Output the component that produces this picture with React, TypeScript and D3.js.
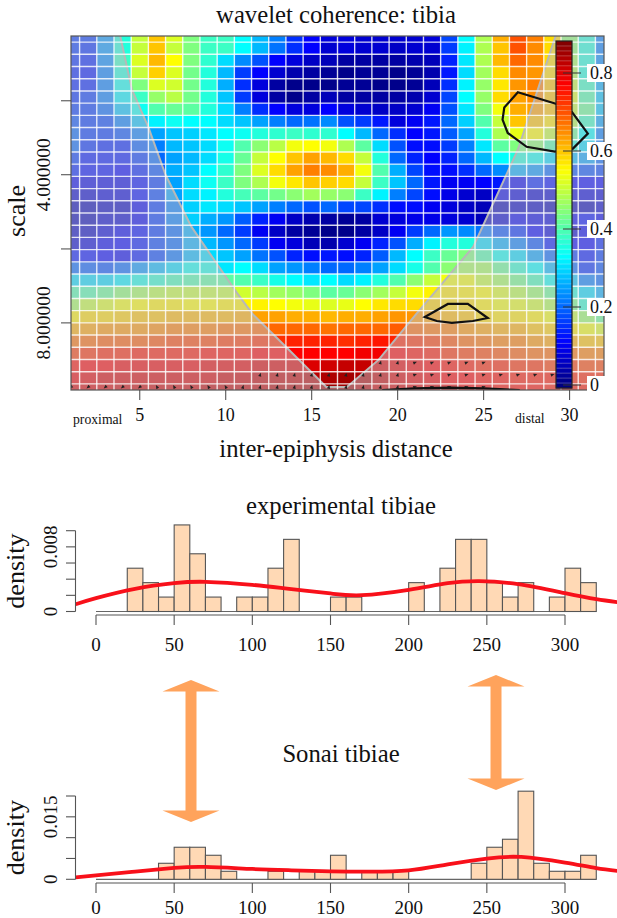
import { useMemo } from 'react';
import * as d3 from 'd3';

const WIDTH = 617;
const HEIGHT = 918;
const SERIF = '"Liberation Serif", "Times New Roman", serif';

// coherence per scale row (top to bottom), columns x = 1..32
const coherence: number[][] = [
  [.16,.16,.24,.36,.5,.6,.52,.44,.38,.38,.33,.27,.22,.15,.11,.08,.08,.07,.07,.07,.07,.08,.17,.33,.48,.62,.7,.66,.58,.45,.36,.22],
  [.16,.15,.24,.36,.5,.6,.5,.44,.38,.38,.33,.27,.21,.15,.11,.07,.08,.07,.07,.06,.07,.07,.16,.32,.48,.6,.7,.65,.58,.45,.36,.22],
  [.15,.14,.23,.38,.52,.61,.55,.44,.37,.3,.23,.18,.11,.08,.06,.05,.03,.03,.03,.03,.04,.05,.14,.31,.48,.61,.68,.65,.58,.47,.36,.23],
  [.14,.13,.22,.36,.5,.59,.52,.43,.36,.27,.16,.11,.07,.04,.03,.02,.01,.02,.02,.01,.02,.04,.13,.3,.47,.58,.65,.64,.58,.48,.36,.24],
  [.14,.14,.22,.34,.44,.52,.51,.43,.36,.26,.15,.08,.03,.01,.01,.01,.02,.02,.01,.01,.02,.05,.15,.32,.46,.57,.64,.66,.6,.5,.38,.26],
  [.15,.16,.22,.32,.38,.46,.49,.43,.36,.28,.16,.08,.03,.01,.03,.05,.03,.03,.03,.03,.04,.07,.17,.33,.46,.58,.63,.65,.6,.52,.4,.28],
  [.16,.16,.2,.28,.34,.4,.42,.41,.36,.3,.22,.15,.11,.08,.08,.11,.08,.07,.06,.06,.07,.1,.18,.31,.44,.54,.62,.63,.6,.5,.42,.28],
  [.18,.16,.17,.22,.28,.32,.34,.33,.33,.3,.28,.25,.22,.2,.21,.23,.18,.16,.13,.08,.1,.13,.2,.29,.4,.5,.6,.6,.57,.48,.38,.25],
  [.2,.16,.16,.18,.22,.25,.28,.29,.31,.33,.34,.36,.37,.38,.37,.37,.33,.27,.2,.15,.11,.13,.19,.25,.36,.48,.53,.55,.5,.42,.33,.22],
  [.2,.15,.14,.14,.19,.22,.27,.28,.3,.34,.4,.45,.49,.54,.55,.54,.48,.41,.3,.18,.12,.12,.16,.22,.31,.41,.44,.45,.4,.36,.3,.22],
  [.16,.13,.13,.13,.16,.2,.25,.27,.3,.35,.42,.5,.55,.6,.63,.61,.58,.5,.36,.2,.14,.11,.14,.2,.27,.33,.36,.34,.3,.27,.25,.2],
  [.14,.12,.12,.11,.14,.18,.26,.28,.33,.37,.44,.52,.58,.63,.66,.65,.62,.54,.4,.26,.17,.12,.12,.15,.2,.23,.26,.24,.2,.18,.18,.17],
  [.1,.09,.09,.09,.12,.16,.25,.3,.34,.38,.44,.48,.54,.57,.6,.59,.58,.5,.38,.28,.2,.13,.1,.1,.11,.13,.1,.14,.12,.11,.11,.11],
  [.07,.07,.08,.08,.12,.17,.25,.3,.32,.36,.39,.41,.43,.45,.47,.46,.45,.38,.32,.22,.17,.12,.09,.07,.06,.09,.08,.07,.07,.08,.08,.08],
  [.05,.05,.06,.06,.1,.16,.22,.29,.31,.3,.28,.25,.22,.2,.18,.2,.17,.17,.15,.12,.12,.1,.08,.06,.05,.05,.06,.06,.05,.05,.05,.07],
  [.05,.05,.07,.07,.1,.16,.22,.29,.26,.24,.19,.14,.1,.06,.04,.03,.02,.03,.07,.08,.09,.09,.08,.07,.05,.07,.1,.09,.08,.1,.12,.1],
  [.06,.06,.08,.1,.12,.16,.2,.26,.24,.2,.16,.1,.06,.03,.02,.01,.01,.03,.06,.1,.16,.2,.24,.23,.21,.18,.15,.11,.08,.07,.1,.1],
  [.07,.08,.1,.11,.13,.17,.2,.26,.27,.24,.2,.16,.1,.08,.05,.04,.07,.1,.14,.18,.26,.32,.36,.36,.3,.26,.22,.18,.13,.11,.11,.14],
  [.13,.12,.11,.1,.13,.17,.21,.27,.3,.28,.25,.21,.18,.14,.12,.13,.12,.14,.19,.27,.33,.38,.42,.44,.4,.34,.3,.25,.2,.16,.13,.16],
  [.2,.19,.18,.2,.24,.27,.3,.34,.35,.31,.33,.3,.25,.24,.22,.2,.2,.22,.25,.3,.35,.4,.45,.47,.47,.42,.37,.33,.27,.2,.15,.18],
  [.3,.3,.3,.32,.35,.37,.39,.4,.41,.41,.4,.38,.35,.33,.31,.33,.3,.32,.36,.4,.45,.5,.54,.54,.5,.47,.43,.39,.34,.28,.22,.2],
  [.4,.4,.42,.45,.47,.49,.5,.5,.5,.5,.51,.49,.47,.46,.44,.41,.42,.45,.47,.5,.54,.56,.57,.56,.55,.52,.49,.46,.42,.36,.3,.26],
  [.47,.5,.52,.54,.55,.56,.56,.55,.55,.56,.56,.56,.55,.54,.53,.52,.53,.55,.57,.58,.58,.59,.58,.58,.56,.54,.53,.51,.48,.43,.37,.32],
  [.56,.58,.58,.59,.6,.6,.61,.61,.61,.61,.62,.63,.63,.62,.62,.61,.62,.62,.63,.64,.64,.63,.61,.6,.58,.57,.57,.56,.54,.5,.46,.42],
  [.62,.63,.64,.64,.64,.65,.66,.66,.66,.67,.67,.68,.68,.68,.68,.67,.68,.68,.68,.69,.68,.67,.66,.64,.63,.62,.62,.6,.59,.57,.54,.52],
  [.67,.68,.69,.69,.69,.7,.71,.71,.71,.72,.72,.73,.73,.74,.74,.74,.73,.74,.75,.74,.73,.72,.7,.68,.67,.66,.66,.64,.63,.62,.6,.6],
  [.72,.73,.74,.74,.75,.75,.75,.75,.76,.76,.76,.77,.77,.77,.77,.77,.77,.78,.78,.77,.76,.75,.73,.72,.71,.7,.69,.68,.68,.67,.66,.66],
  [.76,.77,.77,.78,.78,.78,.78,.78,.79,.79,.79,.8,.8,.8,.8,.81,.82,.82,.8,.79,.78,.77,.76,.75,.74,.74,.73,.73,.72,.72,.71,.71],
  [.78,.79,.8,.8,.8,.8,.8,.8,.8,.81,.81,.82,.82,.82,.83,.84,.85,.84,.82,.8,.79,.78,.77,.77,.76,.76,.75,.75,.75,.74,.74,.74],
  [.8,.8,.8,.81,.81,.81,.81,.81,.82,.82,.82,.82,.83,.83,.84,.85,.85,.83,.81,.8,.79,.79,.78,.77,.77,.76,.76,.76,.75,.75,.75,.74],
];

const jetStops = ['#00007F', '#0000FF', '#007FFF', '#00FFFF', '#7FFF7F', '#FFFF00', '#FF7F00', '#FF0000', '#7F0000'];

// cone of influence
const coiX = [3.85, 4.55, 5.5, 6.5, 8, 10.65, 11.6, 13.57, 15.85, 17.05, 18.9, 21.05, 24.4, 27, 29.2];
const coiScale = [2.08, 2.69, 3.2, 4, 5.1, 6.95, 7.7, 9, 10.8, 10.8, 9.5, 7.7, 5.6, 3.55, 2.08];

// significance contours
const contourA = [[26.99,2.72],[29.2,2.87],[30.13,2.98],[31.06,3.3],[30.19,3.54],[29.14,3.59],[27.5,3.51],[26.4,3.29],[26.1,3.09],[26.2,2.92]];
const contourB = [[21.58,7.78],[22.92,7.32],[24.08,7.32],[25.24,7.82],[24.37,7.93],[23.15,8],[22.28,7.93]];
const contourC = [[19.1,10.95],[21,10.87],[23.03,10.83],[25,10.87],[27.1,10.95]];

// phase arrows: [row, first column, last column]
const arrowRows = [
  [27, 19, 25],
  [28, 12, 29],
  [29, 1, 25],
];

const scaleTicks = [2.83, 4, 5.66, 8];
const scaleTickLabels = ['', '4.000000', '', '8.000000'];
const xTicks = [5, 10, 15, 20, 25, 30];
const barTicks = [0, 0.2, 0.4, 0.6, 0.8];

const histTicks = [0, 50, 100, 150, 200, 250, 300];

const expBins = [20,30,40,50,60,70,90,100,110,120,150,160,200,220,230,240,250,260,270,290,300,310];
const expCounts = [3,2,1,6,4,1,1,1,3,5,1,1,2,3,5,5,2,1,2,1,3,2];
const expTotal = 56;
const expDensX = [-13,0,25,50,70,100,125,150,170,200,225,245,270,300,320,334];
const expDensY = [.0009,.00165,.0028,.0035,.00367,.0033,.00276,.00223,.00202,.00268,.0035,.00375,.00338,.00227,.00153,.00115];

const sonaiBins = [40,50,60,70,80,110,130,140,150,170,180,190,240,250,260,270,280,290,300,310];
const sonaiCounts = [2,4,4,3,1,1,1,1,3,1,1,1,2,4,5,11,2,1,1,3];
const sonaiTotal = 52;
const sonaiDensX = [-13,0,25,50,70,100,125,150,175,200,225,250,272,300,320,334];
const sonaiDensY = [.00048,.00096,.00185,.00272,.00296,.00248,.00216,.00192,.00185,.00216,.0036,.00497,.00536,.004,.0027,.002];

const x = d3.scaleLinear().domain([1, 32]).range([71, 604]);
const y = d3.scaleLog().base(2).domain([2.09, 10.95]).range([36, 390]);
const rowY = d3.scaleLinear().domain([0, 29]).range([36, 390]);
const jet = d3.scaleLinear<string>().domain(jetStops.map((_, i) => i * 0.11)).range(jetStops).clamp(true);
const barY = d3.scaleLinear().domain([0, 0.8]).range([385, 73]);

const histX = d3.scaleLinear().domain([0, 300]).range([96, 565]);

function Heatmap() {
  const cells = useMemo(() => coherence.flatMap((row, r) => row.map((v, c) => {
    const x0 = Math.max(x(c + 0.5), 71);
    const x1 = Math.min(x(c + 1.5), 604);
    const y0 = Math.max(rowY(r - 0.5), 36);
    const y1 = Math.min(rowY(r + 0.5), 390);
    return <rect key={`${r}-${c}`} x={x0} y={y0} width={x1 - x0} height={y1 - y0} fill={jet(v)} />;
  })), []);

  const coiLine = d3.line();
  const coiPts: [number, number][] = coiX.map((d, i) => [x(d), y(coiScale[i])]);
  const coiPath = coiLine(coiPts)!;
  // mask is everything outside the cone
  const maskPath = `M71,36L${coiPts[0][0]},36${coiPath.replace(/^M/, 'L')}L${coiPts[coiPts.length - 1][0]},36L604,36L604,390L71,390Z`;

  const contourLine = d3.line().curve(d3.curveLinearClosed);
  const toPx = (pts: number[][]) => pts.map(p => [x(p[0]), y(p[1])] as [number, number]);

  const colLines = d3.range(1, 32).map(i => x(i + 0.5));
  const rowLines = d3.range(0, 29).map(i => rowY(i + 0.5));

  const arrows = arrowRows.flatMap(([row, from, to]) => d3.range(from, to + 1).map(col => {
    const ax = x(col);
    const ay = rowY(row) - 3;
    const tilt = col < 6 ? -130 : col < 11 ? -30 : col > 20 ? 70 : 15;
    return <path key={`${row}-${col}`} d="M0,-2.2L1.6,1.6L-1.6,1.6Z" transform={`translate(${ax},${ay}) rotate(${tilt})`} fill="#222" />;
  }));

  return (
    <g>
      <filter id="soft"><feGaussianBlur stdDeviation={0.45} /></filter>
      <clipPath id="plot-clip"><rect x={71} y={36} width={533} height={354} /></clipPath>
      <g clipPath="url(#plot-clip)">
        <g filter="url(#soft)">
          {cells}
          <path d={maskPath} fill="rgb(190,190,195)" fillOpacity={0.5} />
          <path d={coiPath} fill="none" stroke="#b8b8b8" strokeWidth={2} />
          {colLines.map(d => <line key={d} x1={d} x2={d} y1={36} y2={390} stroke="#fff" strokeOpacity={0.8} strokeWidth={1.4} />)}
          {rowLines.map(d => <line key={d} x1={71} x2={604} y1={d} y2={d} stroke="#fff" strokeOpacity={0.8} strokeWidth={1.4} />)}
          {arrows}
        </g>
        <path d={contourLine(toPx(contourA))!} fill="none" stroke="#111" strokeWidth={2.2} />
        <path d={contourLine(toPx(contourB))!} fill="none" stroke="#111" strokeWidth={2.2} />
        <path d={d3.line()(toPx(contourC))!} fill="none" stroke="#111" strokeWidth={2.2} />
      </g>
      <rect x={71} y={36} width={533} height={354} fill="none" stroke="#555" strokeWidth={1.2} />

      {scaleTicks.map((d, i) => (
        <g key={d}>
          <line x1={61} x2={71} y1={y(d)} y2={y(d)} stroke="#444" />
          {scaleTickLabels[i] && (
            <text transform={`translate(50,${y(d)}) rotate(-90)`} textAnchor="middle" fontSize={19.5} fontFamily={SERIF} fill="#111">{scaleTickLabels[i]}</text>
          )}
        </g>
      ))}
      {xTicks.map(d => (
        <g key={d}>
          <line x1={x(d)} x2={x(d)} y1={390} y2={400} stroke="#444" />
          <text x={x(d)} y={421} textAnchor="middle" fontSize={18} fontFamily={SERIF} fill="#111">{d}</text>
        </g>
      ))}
      <text x={73} y={424} fontSize={13.7} fontFamily={SERIF} fill="#111">proximal</text>
      <text x={515} y={423} fontSize={13.7} fontFamily={SERIF} fill="#111">distal</text>
      <text x={336} y={22.5} textAnchor="middle" fontSize={24.7} fontFamily={SERIF} fill="#111">wavelet coherence: tibia</text>
      <text x={336} y={457} textAnchor="middle" fontSize={24.7} fontFamily={SERIF} fill="#111">inter-epiphysis distance</text>
      <text transform="translate(25,211) rotate(-90)" textAnchor="middle" fontSize={26} fontFamily={SERIF} fill="#111">scale</text>
    </g>
  );
}

function ColorBar() {
  const levels = d3.range(0, 70);
  const top = 41;
  const bottom = 388;
  const step = (bottom - top) / levels.length;
  return (
    <g>
      {levels.map(i => (
        <rect key={i} x={556} width={16} y={top + i * step} height={step + 0.3} fill={jet(barY.invert(top + (i + 0.5) * step))} />
      ))}
      {levels.slice(1).map(i => (
        <line key={i} x1={556} x2={572} y1={top + i * step} y2={top + i * step} stroke="#fff" strokeOpacity={0.28} strokeWidth={0.9} />
      ))}
      <rect x={556} y={top} width={16} height={bottom - top} fill="none" stroke="#222" strokeWidth={1.2} />
      {barTicks.map(d => (
        <g key={d}>
          <line x1={563} x2={581} y1={barY(d)} y2={barY(d)} stroke="#333" strokeWidth={1} />
          <rect x={587} y={barY(d) - 9} width={26} height={18} fill="#fff" />
          <text x={590} y={barY(d) + 6} fontSize={18} fontFamily={SERIF} fill="#111">{d === 0 ? '0' : d.toFixed(1)}</text>
        </g>
      ))}
    </g>
  );
}

type HistProps = {
  bins: number[];
  counts: number[];
  total: number;
  densX: number[];
  densY: number[];
  yMax: number;
  yTop: number;
  yBottom: number;
  yTickStep: number;
  yLabel: string;
  axisY: number;
  labelY: number;
};

function Histogram({ bins, counts, total, densX, densY, yMax, yTop, yBottom, yTickStep, yLabel, axisY, labelY }: HistProps) {
  const yh = d3.scaleLinear().domain([0, yMax]).range([yBottom, yTop]);
  const ticks = d3.range(0, yMax + yTickStep / 2, yTickStep);
  const pts: [number, number][] = densX.map((d, i) => [histX(d), yh(densY[i])]);
  const curve = d3.line().curve(d3.curveNatural)(pts)!;
  return (
    <g>
      <line x1={histX(0)} x2={histX(320)} y1={yBottom} y2={yBottom} stroke="#666" strokeWidth={1.2} />
      {bins.map((b, i) => (
        <rect key={b} x={histX(b)} width={histX(b + 10) - histX(b)} y={yh(counts[i] / (total * 10))} height={yBottom - yh(counts[i] / (total * 10))} fill="#FFD9B5" stroke="#555" strokeWidth={1.1} />
      ))}
      <path d={curve} fill="none" stroke="#F8101A" strokeWidth={3.8} />
      <line x1={75.5} x2={75.5} y1={yh(yMax)} y2={yBottom} stroke="#555" strokeWidth={1.1} />
      {ticks.map((t, i) => (
        <line key={i} x1={66} x2={75.5} y1={yh(t)} y2={yh(t)} stroke="#555" strokeWidth={1.1} />
      ))}
      <text transform={`translate(57,${yBottom}) rotate(-90)`} textAnchor="middle" fontSize={19} fontFamily={SERIF} fill="#111">0</text>
      <text transform={`translate(57,${yh(yMax - yTickStep)}) rotate(-90)`} textAnchor="middle" fontSize={19} fontFamily={SERIF} fill="#111">{yLabel}</text>
      <text transform={`translate(23.5,${(yTop + yBottom) / 2}) rotate(-90)`} textAnchor="middle" fontSize={26} fontFamily={SERIF} fill="#111">density</text>
      <line x1={histX(0)} x2={histX(300)} y1={axisY} y2={axisY} stroke="#555" strokeWidth={1.1} />
      {histTicks.map(t => (
        <g key={t}>
          <line x1={histX(t)} x2={histX(t)} y1={axisY} y2={axisY + 10} stroke="#555" strokeWidth={1.1} />
          <text x={histX(t)} y={labelY} textAnchor="middle" fontSize={19} fontFamily={SERIF} fill="#111">{t}</text>
        </g>
      ))}
    </g>
  );
}

// double-headed arrow, given centre x and the y of each tip
function DoubleArrow({ cx, top, bottom }: { cx: number; top: number; bottom: number }) {
  const head = 28.5;
  const shaft = 5.5;
  const depth = 11.5;
  const p = d3.path();
  p.moveTo(cx, top);
  p.lineTo(cx + head, top + depth);
  p.lineTo(cx + shaft, top + depth);
  p.lineTo(cx + shaft, bottom - depth);
  p.lineTo(cx + head, bottom - depth);
  p.lineTo(cx, bottom);
  p.lineTo(cx - head, bottom - depth);
  p.lineTo(cx - shaft, bottom - depth);
  p.lineTo(cx - shaft, top + depth);
  p.lineTo(cx - head, top + depth);
  p.closePath();
  return <path d={p.toString()} fill="#FFA35C" />;
}

export default function App() {
  return (
    <svg width={WIDTH} height={HEIGHT} style={{ position: 'absolute', left: 0, top: 0, background: '#fff' }}>
      <Heatmap />
      <ColorBar />
      <text x={341} y={514} textAnchor="middle" fontSize={24.7} fontFamily={SERIF} fill="#111">experimental tibiae</text>
      <Histogram bins={expBins} counts={expCounts} total={expTotal} densX={expDensX} densY={expDensY} yMax={0.01} yTop={530.7} yBottom={611.5} yTickStep={0.002} yLabel="0.008" axisY={615} labelY={651} />
      <DoubleArrow cx={191} top={680} bottom={822} />
      <DoubleArrow cx={496} top={675} bottom={790} />
      <text x={341} y={762} textAnchor="middle" fontSize={24.7} fontFamily={SERIF} fill="#111">Sonai tibiae</text>
      <Histogram bins={sonaiBins} counts={sonaiCounts} total={sonaiTotal} densX={sonaiDensX} densY={sonaiDensY} yMax={0.02} yTop={796} yBottom={879.3} yTickStep={0.005} yLabel="0.015" axisY={883} labelY={914} />
    </svg>
  );
}
